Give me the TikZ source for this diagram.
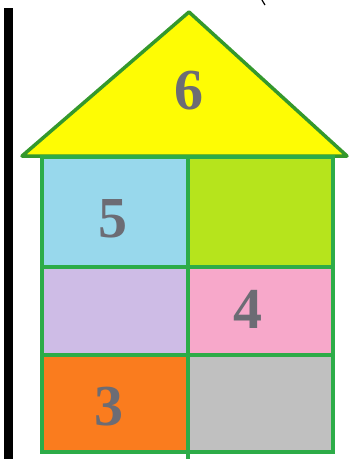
\documentclass[tikz,border=0pt]{standalone}
\usepackage{fontspec}
\setmainfont{Liberation Serif}
\usetikzlibrary{positioning}

\definecolor{wallgreen}{RGB}{45,172,72}
\definecolor{roofgreen}{RGB}{52,152,44}
\definecolor{roofyellow}{RGB}{254,252,4}
\definecolor{skyblue}{RGB}{152,216,236}
\definecolor{limegreen}{RGB}{182,228,28}
\definecolor{lavender}{RGB}{206,188,230}
\definecolor{pinkish}{RGB}{247,168,202}
\definecolor{orangecell}{RGB}{250,124,30}
\definecolor{graycell}{RGB}{192,192,192}
\definecolor{numgray}{RGB}{108,108,116}

\begin{document}
\begin{tikzpicture}[
    x=1pt,y=-1pt,
    cell/.style={rectangle,draw=wallgreen,line width=4pt,inner sep=0pt,outer sep=0pt,anchor=north west},
    num/.style={text=numgray,font=\fontsize{58}{58}\selectfont\bfseries,inner sep=0pt},
]
\useasboundingbox (0,0) rectangle (352,459);

% ---- frame bar and top mark ----
\fill[black] (4,8) rectangle (13,459);
\coordinate (m1) at (262,0);
\coordinate (m2) at (265,5);
\draw[black,line width=1.2pt] (m1) -- (m2);

% ---- roof ----
\coordinate (apex) at (189,12);
\coordinate (eaveL) at (22,156);
\coordinate (eaveR) at (347,156);
\draw[fill=roofyellow,draw=roofgreen,line width=3.5pt,line join=round] (eaveL) -- (apex) -- (eaveR) -- cycle;

% ---- wall cells ----
\node[cell,fill=skyblue,minimum width=146pt,minimum height=110pt]   (c11) at (42,157) {};
\node[cell,fill=limegreen,minimum width=145pt,minimum height=110pt] (c12) at (188,157) {};
\node[cell,fill=lavender,minimum width=146pt,minimum height=88pt]   (c21) at (42,267) {};
\node[cell,fill=pinkish,minimum width=145pt,minimum height=88pt]    (c22) at (188,267) {};
\node[cell,fill=orangecell,minimum width=146pt,minimum height=97pt] (c31) at (42,355) {};
\node[cell,fill=graycell,minimum width=145pt,minimum height=97pt]   (c32) at (188,355) {};

% small tail of the middle post
\coordinate (tail) at (188,459);
\draw[wallgreen,line width=4pt] (c31.south east) -- (tail);

% ---- numbers ----
\node[num] (n6) at (189,91) {6};
\node[num] (n5) at (113,219) {5};
\node[num] (n4) at (248,309) {4};
\node[num] (n3) at (109,407) {3};
\end{tikzpicture}
\end{document}
